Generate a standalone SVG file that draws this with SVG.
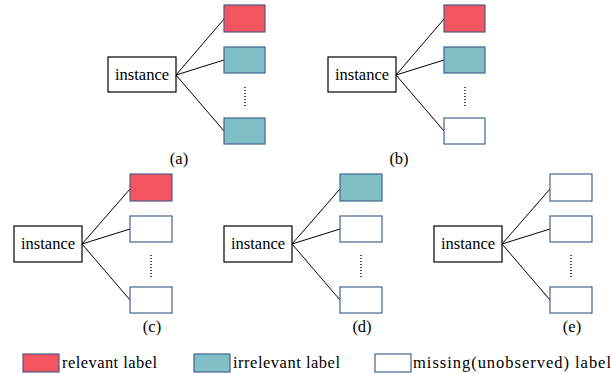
<svg xmlns="http://www.w3.org/2000/svg" width="611" height="374" viewBox="0 0 611 374">
<style>
.inst{fill:#fff;stroke:#000;stroke-width:1.2}
.red{fill:#F2555F;stroke:#4F5B8A;stroke-width:1.2}
.teal{fill:#80BFC5;stroke:#41648F;stroke-width:1.2}
.wht{fill:#fff;stroke:#41648F;stroke-width:1.2}
.t{font-family:'Liberation Serif','Times New Roman',serif;font-size:16.5px;fill:#000}
.m{text-anchor:middle}
.c{stroke:#000;stroke-width:1;fill:none}
.dot{stroke:#000;stroke-width:1.4;stroke-dasharray:1 2;fill:none}
</style>
<rect width="611" height="374" fill="#fff"/>
<g id="connectors">
<path class="c" d="M176 75L224 19M176 75L224 60M176 75L224 131"/>
<path class="c" d="M396 75L444 19M396 75L444 60M396 75L444 131"/>
<path class="c" d="M82 244L130 189M82 244L130 229M82 244L130 300"/>
<path class="c" d="M292 244L340 189M292 244L340 229M292 244L340 300"/>
<path class="c" d="M502 244L550 189M502 244L550 229M502 244L550 300"/>
</g>
<g id="panel-a">
<rect class="inst" x="108" y="57" width="68" height="35"/>
<text class="t m" x="142" y="80">instance</text>
<rect class="red" x="224" y="5" width="41" height="27"/>
<rect class="teal" x="224" y="47" width="41" height="26"/>
<path class="dot" d="M245 87V108"/>
<rect class="teal" x="224" y="118" width="41" height="26"/>
<text class="t m" x="179" y="164">(a)</text>
</g>
<g id="panel-b">
<rect class="inst" x="328" y="57" width="68" height="35"/>
<text class="t m" x="362" y="80">instance</text>
<rect class="red" x="444" y="5" width="41" height="27"/>
<rect class="teal" x="444" y="47" width="41" height="26"/>
<path class="dot" d="M465 87V108"/>
<rect class="wht" x="444" y="118" width="41" height="26"/>
<text class="t m" x="399" y="164">(b)</text>
</g>
<g id="panel-c">
<rect class="inst" x="14" y="226" width="68" height="36"/>
<text class="t m" x="48" y="249">instance</text>
<rect class="red" x="130" y="174" width="42" height="27"/>
<rect class="wht" x="130" y="216" width="42" height="26"/>
<path class="dot" d="M151 255V277"/>
<rect class="wht" x="130" y="287" width="42" height="26"/>
<text class="t m" x="152" y="332">(c)</text>
</g>
<g id="panel-d">
<rect class="inst" x="224" y="226" width="68" height="36"/>
<text class="t m" x="258" y="249">instance</text>
<rect class="teal" x="340" y="174" width="42" height="27"/>
<rect class="wht" x="340" y="216" width="42" height="26"/>
<path class="dot" d="M361 255V277"/>
<rect class="wht" x="340" y="287" width="42" height="26"/>
<text class="t m" x="362" y="332">(d)</text>
</g>
<g id="panel-e">
<rect class="inst" x="434" y="226" width="68" height="36"/>
<text class="t m" x="468" y="249">instance</text>
<rect class="wht" x="550" y="174" width="42" height="27"/>
<rect class="wht" x="550" y="216" width="42" height="26"/>
<path class="dot" d="M571 255V277"/>
<rect class="wht" x="550" y="287" width="42" height="26"/>
<text class="t m" x="572" y="332">(e)</text>
</g>
<g id="legend">
<rect class="red" x="23" y="354" width="36" height="18"/>
<text class="t" x="62" y="368" textLength="95" lengthAdjust="spacing">relevant label</text>
<rect class="teal" x="194" y="354" width="36" height="18"/>
<text class="t" x="233" y="368" textLength="107" lengthAdjust="spacing">irrelevant label</text>
<rect class="wht" x="375" y="354" width="36" height="18"/>
<text class="t" x="413" y="368" textLength="198" lengthAdjust="spacing">missing(unobserved) label</text>
</g>
</svg>
